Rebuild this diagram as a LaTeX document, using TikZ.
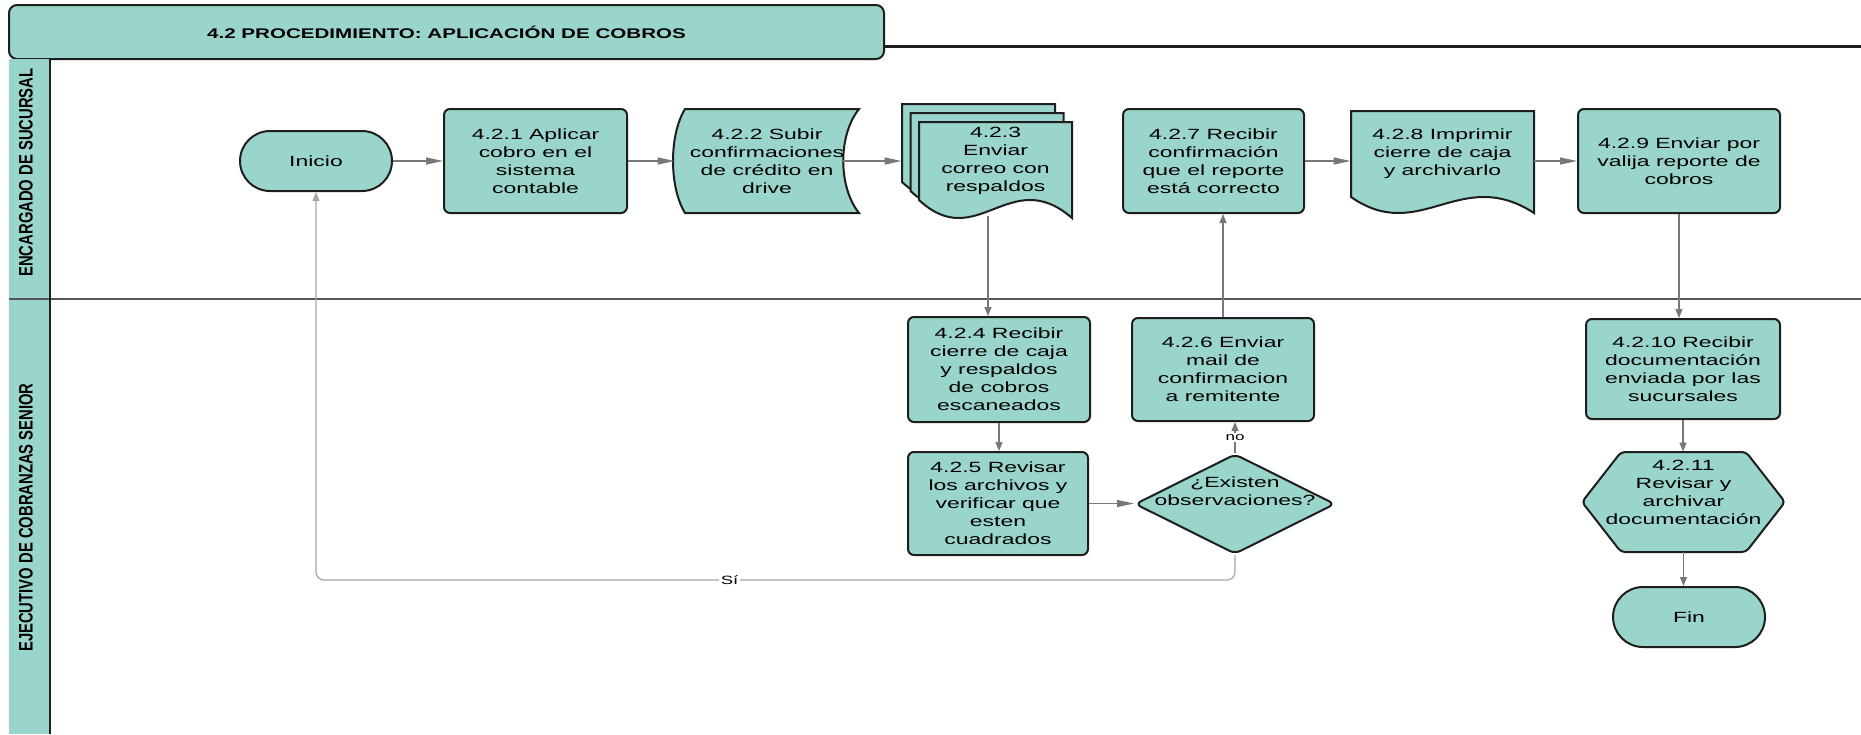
\documentclass[tikz,border=0pt]{standalone}
\usepackage{fontspec}
\usepackage{tikz}
\usetikzlibrary{shapes.geometric}
\usetikzlibrary{shapes.misc}
\usetikzlibrary{arrows.meta}

\setmainfont{Liberation Sans}
\newfontfamily\boxfont{Liberation Sans}[FakeStretch=1.55]
\newfontfamily\titlefont{Liberation Sans}[FakeStretch=1.47]
\newfontfamily\lanefont{Liberation Sans}[FakeStretch=0.76]

\definecolor{tealbox}{RGB}{153,213,202}
\definecolor{edgegray}{RGB}{30,30,30}
\definecolor{flowgray}{RGB}{120,120,120}
\definecolor{backgray}{RGB}{165,165,165}
\definecolor{lanegray}{RGB}{85,85,85}

\begin{document}
\begin{tikzpicture}
[x=0.5pt,y=-0.5pt,
 box/.style={rectangle,rounded corners=3pt,draw=edgegray,line width=1pt,fill=tealbox,align=center,inner sep=2pt,font=\boxfont\fontsize{7.4}{9}\selectfont},
 term/.style={box,sharp corners,rounded rectangle,minimum width=80pt,minimum height=30pt},
 txt/.style={align=center,inner sep=0pt,font=\boxfont\fontsize{7.4}{9}\selectfont},
 shp/.style={draw=edgegray,line width=1pt,fill=tealbox},
 hflow/.style={draw=flowgray,line width=0.6pt,-{Triangle[length=8.5pt,width=3.5pt]}},
 vflow/.style={draw=flowgray,line width=0.6pt,-{Triangle[length=4.5pt,width=3.5pt]}},
 lane/.style={rotate=90,font=\lanefont\bfseries\fontsize{9.75}{11}\selectfont},
 small/.style={fill=white,inner sep=0.8pt,font=\boxfont\fontsize{5.5}{6}\selectfont}]

  \useasboundingbox (0,0) rectangle (1861,734);

  \node[box,rounded corners=4pt,minimum width=437.5pt,minimum height=27pt,
        font=\titlefont\bfseries\fontsize{7}{8}\selectfont] (title) at (446.5,32)
        {4.2 PROCEDIMIENTO: APLICACIÓN DE COBROS};
  \draw[edgegray,line width=1.5pt] (884,46) -- (1861,46);
  \fill[tealbox] (9,59) rectangle (50,734);
  \draw[lanegray,line width=0.8pt] (9,299) -- (1861,299);
  \draw[edgegray,line width=1pt] (50,59) -- (50,734);
  \node[lane] (l1) at (26,172.5) {ENCARGADO DE SUCURSAL};
  \node[lane] (l2) at (26,517.5) {EJECUTIVO DE COBRANZAS SENIOR};

  \draw[shp] (902,104) -- (1055,104) -- (1055,200) .. controls (993,146) and (960,236) .. (902,182) -- cycle;
  \draw[shp] (910.5,113) -- (1063.5,113) -- (1063.5,209) .. controls (1001.5,155) and (968.5,245) .. (910.5,191) -- cycle;
  \draw[shp] (919,122) -- (1072,122) -- (1072,218) .. controls (1010,164) and (977,254) .. (919,200) -- cycle;
  \draw[shp] (685,109) -- (859,109) .. controls (838,135) and (838,187) .. (859,213) -- (685,213) .. controls (669,187) and (669,135) .. (685,109) -- cycle;
  \draw[shp] (1351,111) -- (1534,111) -- (1534,213) .. controls (1460,165) and (1420,245) .. (1351,197) -- cycle;
  \draw[shp,rounded corners=2pt] (1582,502) -- (1621,452) -- (1746,452) -- (1785,502) -- (1746,552) -- (1621,552) -- cycle;

  \node[term] (ini) at (316,161) {Inicio};
  \node[box,minimum width=91.5pt,minimum height=52pt] (s1) at (535.5,161) {4.2.1 Aplicar\\cobro en el\\sistema\\contable};
  \node[txt,minimum width=92pt,minimum height=52pt] (s2) at (767,161) {4.2.2 Subir\\confirmaciones\\de crédito en\\drive};
  \node[txt,minimum width=76.5pt,minimum height=39pt] (s3) at (995.5,161) {4.2.3\\Enviar\\correo con\\respaldos};
  \node[box,minimum width=91pt,minimum height=52.5pt] (s4) at (999,369.5) {4.2.4 Recibir\\cierre de caja\\y respaldos\\de cobros\\escaneados};
  \node[box,minimum width=90pt,minimum height=51.5pt] (s5) at (998,503.5) {4.2.5 Revisar\\los archivos y\\verificar que\\esten\\cuadrados};
  \node[box,diamond,inner sep=0pt,minimum width=100pt,minimum height=50pt,
        label={[txt,yshift=6.5pt]center:{¿Existen\\observaciones?}}] (q) at (1235,504) {};
  \node[box,minimum width=91pt,minimum height=51.5pt] (s6) at (1223,369.5) {4.2.6 Enviar\\mail de\\confirmacion\\a remitente};
  \node[box,minimum width=90.5pt,minimum height=52pt] (s7) at (1213.5,161) {4.2.7 Recibir\\confirmación\\que el reporte\\está correcto};
  \node[txt,minimum width=91.5pt,minimum height=43pt] (s8) at (1442.5,154) {4.2.8 Imprimir\\cierre de caja\\y archivarlo};
  \node[box,minimum width=101pt,minimum height=52pt] (s9) at (1679,161) {4.2.9 Enviar por\\valija reporte de\\cobros};
  \node[box,minimum width=97pt,minimum height=50pt] (s10) at (1683,369) {4.2.10 Recibir\\documentación\\enviada por las\\sucursales};
  \node[txt,minimum width=101.5pt,minimum height=50pt,
        label={[txt,yshift=5pt]center:{4.2.11\\Revisar y\\archivar\\documentación}}] (s11) at (1683.5,502) {};
  \node[term] (fin) at (1689,617) {Fin};

  \foreach \from/\to in {ini/s1, s1/s2, s5/q, s7/s8}
    \draw[hflow] (\from.east) -- (\from.east -| \to.west);
  \draw[hflow] (s9.west -| s8.east) -- (s9.west);
  \draw[hflow] ([xshift=-8pt]s2.east) -- ([xshift=-8.5pt]s3.west);
  \coordinate (c3) at ([xshift=-3.75pt,yshift=-8pt]s3.south);
  \draw[vflow] (c3) -- (c3 |- s4.north);
  \foreach \from/\to in {s4/s5, s9/s10, s10/s11, s11/fin}
    \draw[vflow] (\from.south) -- (\from.south |- \to.north);
  \draw[vflow] (s6.north) -- (s6.north |- s7.south);
  \draw[vflow] (q.north) -- (q.north |- s6.south) node[small,midway] {no};
  \draw[vflow,draw=backgray,rounded corners=4pt] (q.south) -- ++(0,25) -| (ini.south)
    node[small,pos=0.275,font=\boxfont\fontsize{6}{7}\selectfont] {Sí};

\end{tikzpicture}
\end{document}
